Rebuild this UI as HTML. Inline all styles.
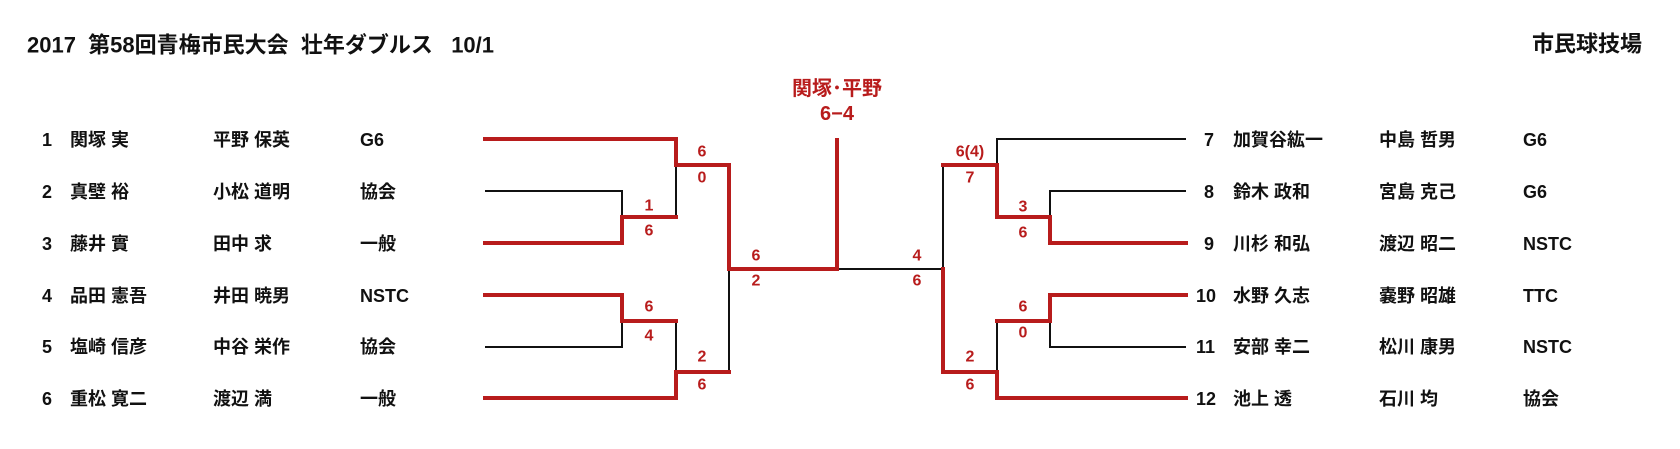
<!DOCTYPE html>
<html><head><meta charset="utf-8"><style>
html,body{margin:0;padding:0;background:#fff;}
svg{display:block;}
text{font-family:"Liberation Sans","Noto Sans CJK JP",sans-serif;white-space:pre;}
.t{font-size:18px;fill:#111;dominant-baseline:central;font-weight:bold;}
.s{font-size:16px;fill:#b81c1c;text-anchor:middle;dominant-baseline:central;font-weight:bold;}
.r{stroke:#b81c1c;stroke-width:4;fill:none;stroke-linecap:square;}
.k{stroke:#111;stroke-width:2;fill:none;}
</style></head><body>
<svg width="1680" height="449" viewBox="0 0 1680 449" xmlns="http://www.w3.org/2000/svg" xml:space="preserve">
<text x="27" y="45" style="font-size:22px;fill:#111;dominant-baseline:central;font-weight:bold;">2017  第58回青梅市民大会  壮年ダブルス   10/1</text>
<text x="1532" y="44" style="font-size:22px;fill:#111;dominant-baseline:central;font-weight:bold;">市民球技場</text>

<text x="837" y="89" style="font-size:20px;font-weight:bold;fill:#b81c1c;text-anchor:middle;dominant-baseline:central;">関塚･平野</text>
<text x="837" y="114" style="font-size:20px;font-weight:bold;fill:#b81c1c;text-anchor:middle;dominant-baseline:central;">6−4</text>

<text x="42" y="140" class="t">1</text><text x="70" y="140" class="t">関塚 実</text><text x="213" y="140" class="t">平野 保英</text><text x="360" y="140" class="t">G6</text>
<text x="42" y="192" class="t">2</text><text x="70" y="192" class="t">真壁 裕</text><text x="213" y="192" class="t">小松 道明</text><text x="360" y="192" class="t">協会</text>
<text x="42" y="244" class="t">3</text><text x="70" y="244" class="t">藤井 實</text><text x="213" y="244" class="t">田中 求</text><text x="360" y="244" class="t">一般</text>
<text x="42" y="296" class="t">4</text><text x="70" y="296" class="t">品田 憲吾</text><text x="213" y="296" class="t">井田 暁男</text><text x="360" y="296" class="t">NSTC</text>
<text x="42" y="347" class="t">5</text><text x="70" y="347" class="t">塩崎 信彦</text><text x="213" y="347" class="t">中谷 栄作</text><text x="360" y="347" class="t">協会</text>
<text x="42" y="399" class="t">6</text><text x="70" y="399" class="t">重松 寛二</text><text x="213" y="399" class="t">渡辺 満</text><text x="360" y="399" class="t">一般</text>

<text x="1204" y="140" class="t">7</text><text x="1233" y="140" class="t">加賀谷紘一</text><text x="1379" y="140" class="t">中島 哲男</text><text x="1523" y="140" class="t">G6</text>
<text x="1204" y="192" class="t">8</text><text x="1233" y="192" class="t">鈴木 政和</text><text x="1379" y="192" class="t">宮島 克己</text><text x="1523" y="192" class="t">G6</text>
<text x="1204" y="244" class="t">9</text><text x="1233" y="244" class="t">川杉 和弘</text><text x="1379" y="244" class="t">渡辺 昭二</text><text x="1523" y="244" class="t">NSTC</text>
<text x="1196" y="296" class="t">10</text><text x="1233" y="296" class="t">水野 久志</text><text x="1379" y="296" class="t">嚢野 昭雄</text><text x="1523" y="296" class="t">TTC</text>
<text x="1196" y="347" class="t">11</text><text x="1233" y="347" class="t">安部 幸二</text><text x="1379" y="347" class="t">松川 康男</text><text x="1523" y="347" class="t">NSTC</text>
<text x="1196" y="399" class="t">12</text><text x="1233" y="399" class="t">池上 透</text><text x="1379" y="399" class="t">石川 均</text><text x="1523" y="399" class="t">協会</text>

<path class="k" d="M485 191H622V217 M485 347H622V321 M676 217V165 M676 321V372 M729 269V372"/>
<path class="k" d="M1186 139H997V165 M1186 191H1050V217 M1186 347H1050V321 M997 321V372 M943 165V269 M837 269H943"/>
<path class="r" d="M485 139H676V165H729V269H837V140"/>
<path class="r" d="M485 243H622V217H676"/>
<path class="r" d="M485 295H622V321H676"/>
<path class="r" d="M485 398H676V372H729"/>
<path class="r" d="M1186 243H1050V217H997V165H943"/>
<path class="r" d="M1186 295H1050V321H997"/>
<path class="r" d="M1186 398H997V372H943V269"/>

<text x="702" y="152" class="s">6</text><text x="702" y="178" class="s">0</text>
<text x="649" y="206" class="s">1</text><text x="649" y="231" class="s">6</text>
<text x="649" y="307" class="s">6</text><text x="649" y="336" class="s">4</text>
<text x="702" y="357" class="s">2</text><text x="702" y="385" class="s">6</text>
<text x="756" y="256" class="s">6</text><text x="756" y="281" class="s">2</text>
<text x="917" y="256" class="s">4</text><text x="917" y="281" class="s">6</text>
<text x="970" y="152" class="s">6(4)</text><text x="970" y="178" class="s">7</text>
<text x="1023" y="207" class="s">3</text><text x="1023" y="233" class="s">6</text>
<text x="1023" y="307" class="s">6</text><text x="1023" y="333" class="s">0</text>
<text x="970" y="357" class="s">2</text><text x="970" y="385" class="s">6</text>
</svg>
</body></html>
